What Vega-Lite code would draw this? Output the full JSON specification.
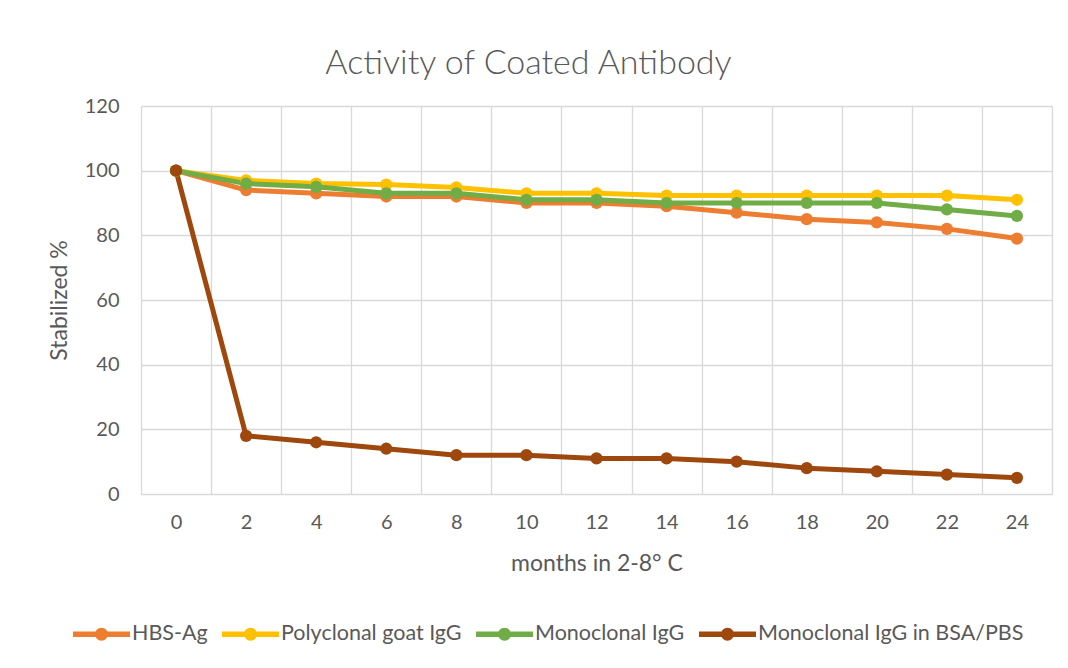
{
  "$schema": "https://vega.github.io/schema/vega-lite/v6.json",
  "width": 911,
  "height": 388,
  "autosize": "none",
  "padding": {"left": 141, "top": 106, "right": 16, "bottom": 174},
  "background": "white",
  "title": {
    "text": "Activity of Coated Antibody",
    "font": "Lato",
    "fontSize": 34,
    "fontWeight": 300,
    "color": "#595959",
    "anchor": "middle",
    "frame": "group",
    "baseline": "alphabetic",
    "dx": -68,
    "offset": -12
  },
  "data": {
    "values": [
      {"month": 0, "series": "HBS-Ag", "value": 100},
      {"month": 2, "series": "HBS-Ag", "value": 94},
      {"month": 4, "series": "HBS-Ag", "value": 93},
      {"month": 6, "series": "HBS-Ag", "value": 92},
      {"month": 8, "series": "HBS-Ag", "value": 92},
      {"month": 10, "series": "HBS-Ag", "value": 90},
      {"month": 12, "series": "HBS-Ag", "value": 90},
      {"month": 14, "series": "HBS-Ag", "value": 89},
      {"month": 16, "series": "HBS-Ag", "value": 87},
      {"month": 18, "series": "HBS-Ag", "value": 85},
      {"month": 20, "series": "HBS-Ag", "value": 84},
      {"month": 22, "series": "HBS-Ag", "value": 82},
      {"month": 24, "series": "HBS-Ag", "value": 79},
      {"month": 0, "series": "Polyclonal goat IgG", "value": 100},
      {"month": 2, "series": "Polyclonal goat IgG", "value": 97},
      {"month": 4, "series": "Polyclonal goat IgG", "value": 96},
      {"month": 6, "series": "Polyclonal goat IgG", "value": 95.7},
      {"month": 8, "series": "Polyclonal goat IgG", "value": 94.8},
      {"month": 10, "series": "Polyclonal goat IgG", "value": 93},
      {"month": 12, "series": "Polyclonal goat IgG", "value": 93},
      {"month": 14, "series": "Polyclonal goat IgG", "value": 92.3},
      {"month": 16, "series": "Polyclonal goat IgG", "value": 92.3},
      {"month": 18, "series": "Polyclonal goat IgG", "value": 92.3},
      {"month": 20, "series": "Polyclonal goat IgG", "value": 92.3},
      {"month": 22, "series": "Polyclonal goat IgG", "value": 92.3},
      {"month": 24, "series": "Polyclonal goat IgG", "value": 91},
      {"month": 0, "series": "Monoclonal IgG", "value": 100},
      {"month": 2, "series": "Monoclonal IgG", "value": 96},
      {"month": 4, "series": "Monoclonal IgG", "value": 95},
      {"month": 6, "series": "Monoclonal IgG", "value": 93},
      {"month": 8, "series": "Monoclonal IgG", "value": 93},
      {"month": 10, "series": "Monoclonal IgG", "value": 91},
      {"month": 12, "series": "Monoclonal IgG", "value": 91},
      {"month": 14, "series": "Monoclonal IgG", "value": 90},
      {"month": 16, "series": "Monoclonal IgG", "value": 90},
      {"month": 18, "series": "Monoclonal IgG", "value": 90},
      {"month": 20, "series": "Monoclonal IgG", "value": 90},
      {"month": 22, "series": "Monoclonal IgG", "value": 88},
      {"month": 24, "series": "Monoclonal IgG", "value": 86},
      {"month": 0, "series": "Monoclonal IgG in BSA/PBS", "value": 100},
      {"month": 2, "series": "Monoclonal IgG in BSA/PBS", "value": 18},
      {"month": 4, "series": "Monoclonal IgG in BSA/PBS", "value": 16},
      {"month": 6, "series": "Monoclonal IgG in BSA/PBS", "value": 14},
      {"month": 8, "series": "Monoclonal IgG in BSA/PBS", "value": 12},
      {"month": 10, "series": "Monoclonal IgG in BSA/PBS", "value": 12},
      {"month": 12, "series": "Monoclonal IgG in BSA/PBS", "value": 11},
      {"month": 14, "series": "Monoclonal IgG in BSA/PBS", "value": 11},
      {"month": 16, "series": "Monoclonal IgG in BSA/PBS", "value": 10},
      {"month": 18, "series": "Monoclonal IgG in BSA/PBS", "value": 8},
      {"month": 20, "series": "Monoclonal IgG in BSA/PBS", "value": 7},
      {"month": 22, "series": "Monoclonal IgG in BSA/PBS", "value": 6},
      {"month": 24, "series": "Monoclonal IgG in BSA/PBS", "value": 5}
    ]
  },
  "encoding": {
    "y": {
      "field": "value",
      "type": "quantitative",
      "scale": {"domain": [0, 120], "nice": false, "zero": true},
      "axis": {
        "title": "Stabilized %",
        "values": [0, 20, 40, 60, 80, 100, 120],
        "grid": true,
        "gridColor": "#d9d9d9",
        "gridWidth": 1.3,
        "domain": false,
        "ticks": false,
        "labelPadding": 22,
        "labelFont": "Lato",
        "labelFontSize": 20,
        "labelColor": "#595959",
        "titleFont": "Lato",
        "titleFontSize": 23,
        "titleFontWeight": "normal",
        "titleColor": "#595959",
        "titlePadding": 13
      }
    },
    "color": {
      "field": "series",
      "type": "nominal",
      "scale": {
        "domain": ["HBS-Ag", "Polyclonal goat IgG", "Monoclonal IgG", "Monoclonal IgG in BSA/PBS"],
        "range": ["#ED7D31", "#FFC000", "#70AD47", "#9E480E"]
      },
      "legend": {
        "title": null,
        "orient": "none",
        "direction": "horizontal",
        "legendX": -68,
        "legendY": 509,
        "symbolType": "M-1,-0.14 L2,-0.14 L2,0.14 L-1,0.14 Z M0.16,0 A0.34,0.34 0 1,1 0.84,0 A0.34,0.34 0 1,1 0.16,0 Z",
        "symbolSize": 1444,
        "symbolStrokeWidth": 0,
        "labelOffset": 21,
        "labelLimit": 0,
        "columnPadding": 14,
        "labelFont": "Lato",
        "labelFontSize": 21.5,
        "labelColor": "#595959",
        "encode": {
          "symbols": {
            "update": {
              "fill": {"scale": "color", "field": "value"},
              "stroke": {"value": "transparent"},
              "strokeWidth": {"value": 0},
              "opacity": {"value": 1}
            }
          }
        }
      }
    }
  },
  "layer": [
    {
      "mark": {"type": "line", "strokeWidth": 5, "strokeCap": "round", "strokeJoin": "round"},
      "encoding": {
        "x": {
          "field": "month",
          "type": "quantitative",
          "scale": {"domain": [-1, 25], "nice": false, "zero": false},
          "axis": {
            "orient": "bottom",
            "title": "months in 2-8° C",
            "values": [0, 2, 4, 6, 8, 10, 12, 14, 16, 18, 20, 22, 24],
            "grid": false,
            "domain": false,
            "ticks": false,
            "labelPadding": 18,
            "labelFont": "Lato",
            "labelFontSize": 20,
            "labelColor": "#595959",
            "titleFont": "Lato",
            "titleFontSize": 23,
            "titleFontWeight": "normal",
            "titleColor": "#595959",
            "titlePadding": 20
          }
        }
      }
    },
    {
      "mark": {"type": "point", "filled": true, "size": 150, "opacity": 1},
      "encoding": {
        "x": {
          "field": "month",
          "type": "quantitative",
          "axis": {
            "orient": "top",
            "title": null,
            "values": [-1, 1, 3, 5, 7, 9, 11, 13, 15, 17, 19, 21, 23, 25],
            "grid": true,
            "gridColor": "#d9d9d9",
            "gridWidth": 1.3,
            "labels": false,
            "domain": false,
            "ticks": false
          }
        }
      }
    }
  ],
  "resolve": {"axis": {"x": "independent"}}
}
